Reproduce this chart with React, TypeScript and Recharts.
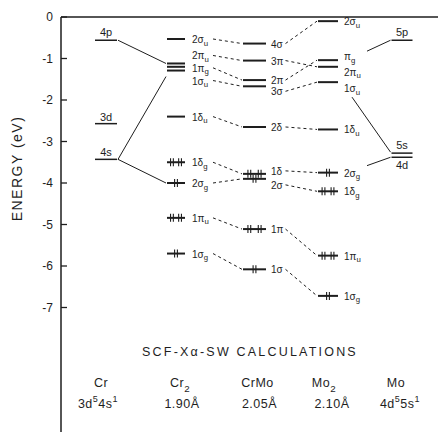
import { ComposedChart, Scatter, XAxis, YAxis, ReferenceLine } from "recharts";

const INK = "#1e1e1e";
const FONT = "'Liberation Sans', Arial, sans-serif";

const ENERGY_TICKS = [0, -1, -2, -3, -4, -5, -6, -7];

type Level = { id: string; orb: string; e: number; occ?: number };

// orbital energies in eV; occ = electrons drawn on the level
const crLevels: Level[] = [
  { id: "cr4p", orb: "4p", e: -0.56 },
  { id: "cr3d", orb: "3d", e: -2.57 },
  { id: "cr4s", orb: "4s", e: -3.43 },
];

const cr2Levels: Level[] = [
  { id: "cr2_2su", orb: "2σ_u", e: -0.53 },
  { id: "cr2_2pu", orb: "2π_u", e: -1.12 },
  { id: "cr2_1pg", orb: "1π_g", e: -1.2 },
  { id: "cr2_1su", orb: "1σ_u", e: -1.29 },
  { id: "cr2_1du", orb: "1δ_u", e: -2.4 },
  { id: "cr2_1dg", orb: "1δ_g", e: -3.5, occ: 4 },
  { id: "cr2_2sg", orb: "2σ_g", e: -4.0, occ: 2 },
  { id: "cr2_1pu", orb: "1π_u", e: -4.84, occ: 4 },
  { id: "cr2_1sg", orb: "1σ_g", e: -5.7, occ: 2 },
];

const crmoLevels: Level[] = [
  { id: "crmo_4s", orb: "4σ", e: -0.64 },
  { id: "crmo_3p", orb: "3π", e: -1.05 },
  { id: "crmo_2p", orb: "2π", e: -1.52 },
  { id: "crmo_3s", orb: "3σ", e: -1.67 },
  { id: "crmo_2d", orb: "2δ", e: -2.65 },
  { id: "crmo_1d", orb: "1δ", e: -3.78, occ: 4 },
  { id: "crmo_2s", orb: "2σ", e: -3.9, occ: 2 },
  { id: "crmo_1p", orb: "1π", e: -5.11, occ: 4 },
  { id: "crmo_1s", orb: "1σ", e: -6.08, occ: 2 },
];

const mo2Levels: Level[] = [
  { id: "mo2_2su", orb: "2σ_u", e: -0.1 },
  { id: "mo2_1pg", orb: "π_g", e: -1.04 },
  { id: "mo2_2pu", orb: "2π_u", e: -1.2 },
  { id: "mo2_1su", orb: "1σ_u", e: -1.57 },
  { id: "mo2_1du", orb: "1δ_u", e: -2.71 },
  { id: "mo2_2sg", orb: "2σ_g", e: -3.75, occ: 2 },
  { id: "mo2_1dg", orb: "1δ_g", e: -4.2, occ: 4 },
  { id: "mo2_1pu", orb: "1π_u", e: -5.75, occ: 4 },
  { id: "mo2_1sg", orb: "1σ_g", e: -6.72, occ: 2 },
];

const moLevels: Level[] = [
  { id: "mo5p", orb: "5p", e: -0.56 },
  { id: "mo5s", orb: "5s", e: -3.28 },
  { id: "mo4d", orb: "4d", e: -3.38 },
];

const columnLevels = [crLevels, cr2Levels, crmoLevels, mo2Levels, moLevels];
const columnNames = ["Cr", "Cr_2", "CrMo", "Mo_2", "Mo"];
const columnDetails = ["3d^54s^1", "1.90Å", "2.05Å", "2.10Å", "4d^55s^1"];
const title = "SCF-Xα-SW CALCULATIONS";
const axisTitle = "ENERGY (eV)";

// dashed correlation lines between molecular levels
const correlations: [string, string][] = [
  ["cr2_2su", "crmo_4s"],
  ["cr2_2pu", "crmo_3p"],
  ["cr2_1pg", "crmo_2p"],
  ["cr2_1su", "crmo_3s"],
  ["cr2_1du", "crmo_2d"],
  ["cr2_1dg", "crmo_1d"],
  ["cr2_2sg", "crmo_2s"],
  ["cr2_1pu", "crmo_1p"],
  ["cr2_1sg", "crmo_1s"],
  ["crmo_4s", "mo2_2su"],
  ["crmo_3p", "mo2_2pu"],
  ["crmo_2p", "mo2_1pg"],
  ["crmo_3s", "mo2_1su"],
  ["crmo_2d", "mo2_1du"],
  ["crmo_1d", "mo2_2sg"],
  ["crmo_2s", "mo2_1dg"],
  ["crmo_1p", "mo2_1pu"],
  ["crmo_1s", "mo2_1sg"],
];

// solid lines from atomic levels to molecular levels
const atomLinks: [string, string][] = [
  ["cr4p", "cr2_2pu"],
  ["cr4s", "cr2_1su"],
  ["cr4s", "cr2_2sg"],
  ["mo5p", "mo2_1pg"],
  ["mo5s", "mo2_1su"],
  ["mo4d", "mo2_2sg"],
];

// ---- layout ----
const W = 438;
const H = 432;
const AXIS_W = 61;
const TOP = 17;
const PX_PER_EV = (H - TOP) / 10;
const COLUMN_X = [45, 115, 193.5, 267, 341];
const HALF_W = [11, 9, 11.5, 10, 10.5];
const LABEL_GAP = [0, 7, 5, 6, 0];
const DASH_FROM = [0, 37, 31, 0, 0];
const NAME_DX = [-5, 4, 3, -4, -6];
const DETAIL_DX = [-8, 6, 5, 4, -2];
const TITLE_X = 189;
const TITLE_E = -8.07;
const NAME_E = -8.82;
const DETAIL_E = -9.33;
const AXIS_TITLE_E = -3.65;

// label offsets in px (positive = down)
const LABEL_DY: Record<string, number> = {
  cr4p: -8, cr3d: -7, cr4s: -7, mo5p: -8, mo5s: -8, mo4d: 8,
  cr2_2pu: -8, cr2_1pg: 1, cr2_1su: 10,
  crmo_3s: 5, crmo_1d: -3, crmo_2s: 6,
  mo2_1pg: -4, mo2_2pu: 5, mo2_1su: 6,
};

// endpoint offsets in px for atom links: [fromDx, fromDy, toDx, toDy]
const ATOM_LINK_ENDS: [number, number, number, number][] = [
  [12, 0, -10, 0],
  [12, 0, -10, 6],
  [12, 0, -10, 0],
  [-11.5, 0, 39, -9],
  [-11.5, -1, 24, 15],
  [-11.5, 0, 39, -7],
];

const levelIndex: Record<string, { col: number; e: number }> = {};
columnLevels.forEach((levels, col) => levels.forEach((l) => (levelIndex[l.id] = { col, e: l.e })));

const pxToEv = (px: number) => px / PX_PER_EV;

function RichText({ x, y, text, size, anchor = "start", spacing = 0 }: any) {
  const parts = String(text).split(/([_^].)/).filter(Boolean);
  let shift = 0;
  const spans = parts.map((p, i) => {
    let target = 0;
    let content = p;
    let fs = size;
    if (p[0] === "_") {
      target = size * 0.36;
      content = p.slice(1);
      fs = size * 0.78;
    } else if (p[0] === "^") {
      target = -size * 0.42;
      content = p.slice(1);
      fs = size * 0.72;
    }
    const dy = target - shift;
    shift = target;
    return (
      <tspan key={i} dy={dy} fontSize={fs}>
        {content}
      </tspan>
    );
  });
  return (
    <text x={x} y={y} fill={INK} fontFamily={FONT} fontSize={size} textAnchor={anchor} dominantBaseline="central" letterSpacing={spacing}>
      {spans}
    </text>
  );
}

function electronMarks(cx: number, cy: number, occ: number | undefined, hw: number) {
  if (!occ) return null;
  const centers = occ >= 4 ? [cx - hw * 0.45, cx + hw * 0.45] : [cx];
  return centers.flatMap((c, i) =>
    [-1.4, 1.4].map((o, j) => (
      <line key={`${i}-${j}`} x1={c + o} x2={c + o} y1={cy - 4} y2={cy + 4} stroke={INK} strokeWidth={1.1} />
    ))
  );
}

const makeLevelShape = (col: number) => (props: any) => {
  const { cx, cy, payload } = props;
  const hw = HALF_W[col];
  const atomic = col === 0 || col === 4;
  const dy = LABEL_DY[payload.id] ?? (atomic ? -7 : 0);
  return (
    <g>
      <line x1={cx - hw} x2={cx + hw} y1={cy} y2={cy} stroke={INK} strokeWidth={atomic ? 1.5 : 2} />
      {electronMarks(cx, cy, payload.occ, hw)}
      {atomic ? (
        <RichText x={cx} y={cy + dy} text={payload.orb} size={11} anchor="middle" />
      ) : (
        <RichText x={cx + hw + LABEL_GAP[col]} y={cy + dy} text={payload.orb} size={10} />
      )}
    </g>
  );
};

const textShape = (size: number, spacing = 0) => (props: any) => (
  <RichText x={props.cx} y={props.cy} text={props.payload.text} size={size} anchor="middle" spacing={spacing} />
);

const axisTitleShape = (props: any) => (
  <text
    x={props.cx - 44}
    y={props.cy}
    transform={`rotate(-90 ${props.cx - 44} ${props.cy})`}
    fill={INK}
    fontFamily={FONT}
    fontSize={14}
    letterSpacing={1.5}
    textAnchor="middle"
    dominantBaseline="central"
  >
    {props.payload.text}
  </text>
);

const EnergyTick = (props: any) => {
  const { x, y, payload } = props;
  return (
    <g>
      <text x={x} y={y} fill={INK} fontFamily={FONT} fontSize={12} textAnchor="end" dominantBaseline="central">
        {payload.value === 0 ? "0" : `-${Math.abs(payload.value)}`}
      </text>
      <line x1={x + 8} x2={x + 14} y1={y} y2={y} stroke={INK} strokeWidth={1.3} />
    </g>
  );
};

export default function App() {
  const dashed = correlations.map(([a, b]) => {
    const from = levelIndex[a];
    const to = levelIndex[b];
    return [
      { x: COLUMN_X[from.col] + DASH_FROM[from.col], y: from.e - pxToEv(LABEL_DY[a] ?? 0) },
      { x: COLUMN_X[to.col] - HALF_W[to.col] - 1, y: to.e },
    ];
  });

  const solid = atomLinks.map(([a, b], i) => {
    const from = levelIndex[a];
    const to = levelIndex[b];
    const [fdx, fdy, tdx, tdy] = ATOM_LINK_ENDS[i];
    return [
      { x: COLUMN_X[from.col] + fdx, y: from.e - pxToEv(fdy) },
      { x: COLUMN_X[to.col] + tdx, y: to.e - pxToEv(tdy) },
    ];
  });

  const nameData = columnNames.map((text, i) => ({ x: COLUMN_X[i] + NAME_DX[i], y: NAME_E, text }));
  const detailData = columnDetails.map((text, i) => ({ x: COLUMN_X[i] + DETAIL_DX[i], y: DETAIL_E, text }));

  return (
    <div style={{ width: W, height: H, background: "#fff" }}>
      <style>{"body{margin:0}"}</style>
      <ComposedChart width={W} height={H} margin={{ top: TOP, right: 0, bottom: 0, left: 0 }}>
        <XAxis type="number" dataKey="x" domain={[0, W - AXIS_W]} hide />
        <YAxis
          type="number"
          dataKey="y"
          domain={[-10, 0]}
          ticks={ENERGY_TICKS}
          interval={0}
          width={AXIS_W}
          tickSize={0}
          tickMargin={8}
          tickLine={false}
          tick={(p: any) => <EnergyTick {...p} />}
          axisLine={{ stroke: INK, strokeWidth: 1.5 }}
        />
        <ReferenceLine y={0} stroke={INK} strokeWidth={1.5} />
        {dashed.map((seg, i) => (
          <ReferenceLine key={`d${i}`} segment={seg} stroke={INK} strokeWidth={1} strokeDasharray="3 3" ifOverflow="visible" />
        ))}
        {solid.map((seg, i) => (
          <ReferenceLine key={`s${i}`} segment={seg} stroke={INK} strokeWidth={1} ifOverflow="visible" />
        ))}
        {columnLevels.map((levels, col) => (
          <Scatter
            key={`c${col}`}
            data={levels.map((l) => ({ ...l, x: COLUMN_X[col], y: l.e }))}
            shape={makeLevelShape(col)}
            isAnimationActive={false}
          />
        ))}
        <Scatter data={[{ x: TITLE_X, y: TITLE_E, text: title }]} shape={textShape(12.5, 2.2)} isAnimationActive={false} />
        <Scatter data={nameData} shape={textShape(12.5, 0.5)} isAnimationActive={false} />
        <Scatter data={detailData} shape={textShape(12.5, 0.5)} isAnimationActive={false} />
        <Scatter data={[{ x: 0, y: AXIS_TITLE_E, text: axisTitle }]} shape={axisTitleShape} isAnimationActive={false} />
      </ComposedChart>
    </div>
  );
}
